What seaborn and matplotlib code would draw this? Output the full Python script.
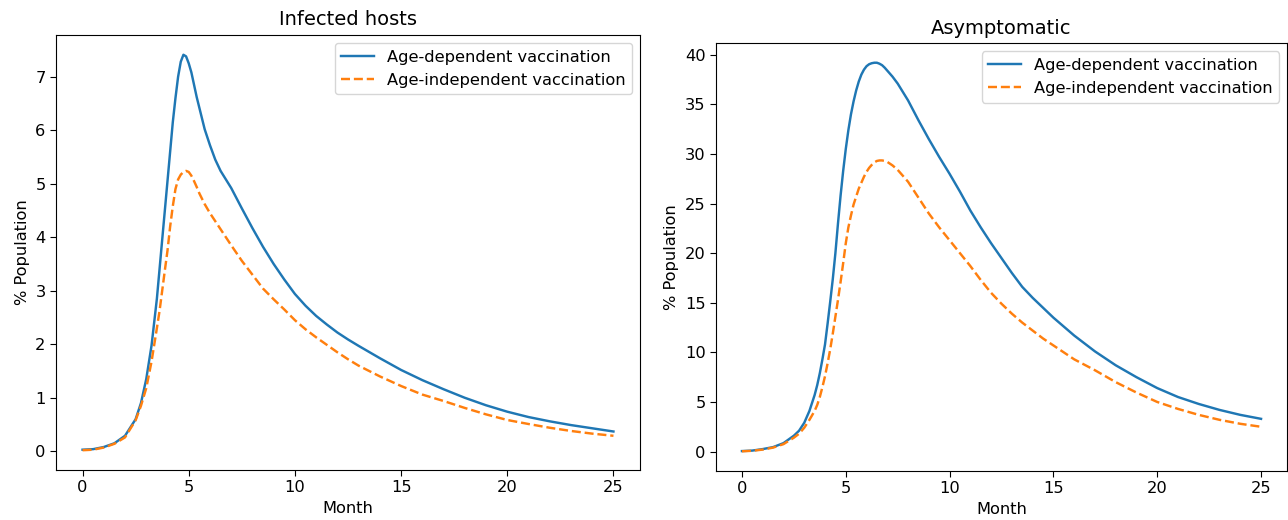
import matplotlib
matplotlib.use("Agg")
import matplotlib.pyplot as plt
import seaborn as sns
import pandas as pd

# ---- Data: Infected hosts ----
t_inf = [0, 0.5, 1.0, 1.5, 2.0, 2.5, 2.75, 3.0, 3.25, 3.5, 3.625, 3.75, 3.875,
         4.0, 4.125, 4.25, 4.375, 4.5, 4.625, 4.75, 4.875, 5.0, 5.125, 5.25, 5.375,
         5.5, 5.75, 6.0, 6.25, 6.5, 6.75, 7.0, 7.5, 8.0, 8.5, 9.0, 9.5, 10, 10.5,
         11, 11.5, 12, 12.5, 13, 14, 15, 16, 17, 18, 19, 20, 21, 22, 23, 24, 25]
inf_dep = [0.03, 0.04, 0.08, 0.15, 0.29, 0.60, 0.90, 1.35, 1.98, 2.85, 3.40, 3.95,
           4.50, 5.05, 5.60, 6.15, 6.60, 7.00, 7.28, 7.41, 7.38, 7.25, 7.08, 6.85,
           6.62, 6.42, 6.02, 5.72, 5.45, 5.24, 5.08, 4.92, 4.54, 4.17, 3.82, 3.50,
           3.21, 2.94, 2.72, 2.53, 2.37, 2.22, 2.09, 1.97, 1.74, 1.52, 1.33, 1.16,
           1.00, 0.86, 0.74, 0.64, 0.56, 0.49, 0.43, 0.37]
inf_ind = [0.02, 0.03, 0.07, 0.14, 0.26, 0.58, 0.85, 1.18, 1.68, 2.30, 2.62, 3.00,
           3.38, 3.75, 4.20, 4.58, 4.90, 5.08, 5.17, 5.22, 5.24, 5.22, 5.15, 5.05,
           4.94, 4.82, 4.62, 4.45, 4.30, 4.15, 4.00, 3.85, 3.56, 3.30, 3.04, 2.84,
           2.65, 2.45, 2.28, 2.13, 1.99, 1.85, 1.72, 1.60, 1.40, 1.22, 1.06, 0.94,
           0.81, 0.69, 0.585, 0.51, 0.44, 0.38, 0.33, 0.29]

# ---- Data: Asymptomatic ----
t_asy = [0, 0.5, 1.0, 1.5, 2.0, 2.5, 2.75, 3.0, 3.25, 3.5, 3.625, 3.75, 3.875,
         4.0, 4.125, 4.25, 4.375, 4.5, 4.625, 4.75, 4.875, 5.0, 5.125, 5.25, 5.375,
         5.5, 5.625, 5.75, 5.875, 6.0, 6.125, 6.25, 6.375, 6.5, 6.625, 6.75, 6.875,
         7.0, 7.25, 7.5, 8.0, 8.5, 9.0, 9.5, 10, 10.5, 11, 11.5, 12, 12.5, 13,
         13.5, 14, 14.5, 15, 16, 17, 18, 19, 20, 21, 22, 23, 24, 25]
asy_dep = [0.05, 0.10, 0.25, 0.45, 0.85, 1.6, 2.1, 2.9, 4.1, 5.7, 6.7, 7.9, 9.3,
           10.8, 12.9, 15.1, 17.4, 20.0, 23.0, 25.8, 28.3, 30.5, 32.4, 34.0, 35.3,
           36.4, 37.3, 38.0, 38.5, 38.85, 39.05, 39.15, 39.2, 39.2, 39.1, 38.95,
           38.7, 38.4, 37.8, 37.1, 35.4, 33.4, 31.5, 29.7, 28.0, 26.2, 24.3, 22.6,
           21.0, 19.5, 18.0, 16.6, 15.5, 14.5, 13.5, 11.7, 10.1, 8.7, 7.5, 6.4,
           5.5, 4.8, 4.2, 3.7, 3.3]
asy_ind = [0.03, 0.08, 0.20, 0.40, 0.75, 1.4, 1.8, 2.4, 3.2, 4.1, 4.7, 5.5, 6.5,
           7.6, 8.9, 10.3, 11.9, 13.6, 15.3, 17.1, 19.0, 21.0, 22.6, 23.8, 24.9,
           25.7, 26.5, 27.1, 27.7, 28.2, 28.6, 28.9, 29.15, 29.3, 29.35, 29.35,
           29.3, 29.2, 28.85, 28.4, 27.2, 25.6, 24.0, 22.6, 21.3, 20.0, 18.7, 17.3,
           16.0, 14.9, 13.9, 13.0, 12.2, 11.4, 10.7, 9.3, 8.2, 7.0, 5.95, 5.0, 4.3,
           3.7, 3.2, 2.8, 2.5]

labels = ["Age-dependent vaccination", "Age-independent vaccination"]
titles = ["Infected hosts", "Asymptomatic"]

FS = 11.7
fig = plt.figure(figsize=(12.88, 5.2), dpi=100)
W, H = 1288, 520
ax1 = fig.add_axes([56 / W, (H - 470) / H, 584 / W, 435 / H])
ax2 = fig.add_axes([716 / W, (H - 470.7) / H, 571 / W, 427.4 / H])

panels = [(ax1, t_inf, inf_dep, inf_ind), (ax2, t_asy, asy_dep, asy_ind)]
for (ax, t, dep, ind), title in zip(panels, titles):
    df = pd.DataFrame({"Month": t, "dep": dep, "ind": ind})
    sns.lineplot(data=df, x="Month", y="dep", ax=ax, color="#1f77b4",
                 label=labels[0], linewidth=1.75)
    sns.lineplot(data=df, x="Month", y="ind", ax=ax, color="#ff7f0e",
                 linestyle="--", label=labels[1], linewidth=1.75)
    ax.set_title(title, fontsize=14, pad=7)
    ax.set_xlabel("Month", fontsize=FS)
    ax.set_ylabel("% Population", fontsize=FS)
    ax.set_xticks([0, 5, 10, 15, 20, 25])
    ax.tick_params(labelsize=FS, length=4)
    ax.legend(loc="upper right", fontsize=FS)

fig.savefig("out.png", dpi=100)
